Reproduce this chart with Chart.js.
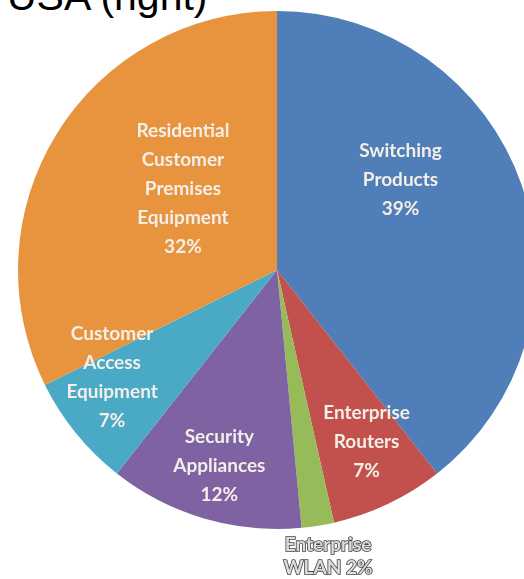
<!DOCTYPE html>
<html>
<head>
<meta charset="utf-8">
<script src="https://cdn.jsdelivr.net/npm/chart.js@4.4.0/dist/chart.umd.min.js"></script>
<style>
  html, body { margin: 0; padding: 0; background: #fff; overflow: hidden; width: 524px; height: 579px; }
  #title { position: absolute; left: 7px; top: -24px; font: 41px "Liberation Sans", Arial, sans-serif; line-height: 41px; color: #000; white-space: nowrap; }
  #wrap { position: absolute; left: 18px; top: 11px; width: 518px; height: 568px; }
</style>
</head>
<body>
<div id="title">USA (right)</div>
<div id="wrap"><canvas id="pie-chart"></canvas></div>
<script>
// segments, clockwise from 12 o'clock
var segmentLabels = [
  ['Switching', 'Products', '39%'],
  ['Enterprise', 'Routers', '7%'],
  ['Enterprise', 'WLAN 2%'],
  ['Security', 'Appliances', '12%'],
  ['Customer', 'Access', 'Equipment', '7%'],
  ['Residential', 'Customer', 'Premises', 'Equipment', '32%']
];
var segmentNames = ['Switching Products', 'Enterprise Routers', 'Enterprise WLAN', 'Security Appliances', 'Customer Access Equipment', 'Residential Customer Premises Equipment'];
var shares = [39, 7, 2, 12, 7, 32];
var colors = ['#4f7eb8', '#c2504c', '#98bb5a', '#7e62a2', '#4aaac5', '#e8943f'];

// where each label sits: shift from the slice's middle angle (deg) and distance as part of radius
var labelShift = [-17, -2, -1, 0, 6, 9];
var labelDist = [0.59, 0.75, 1.125, 0.79, 0.76, 0.48];

var ctx = document.getElementById('pie-chart');

var sliceLabels = {
  id: 'sliceLabels',
  afterDatasetsDraw: function(chart) {
    var c = chart.ctx;
    var arcs = chart.getDatasetMeta(0).data;
    c.save();
    c.font = 'bold 19px Lato, "Open Sans", sans-serif';
    c.textAlign = 'center';
    c.textBaseline = 'middle';
    arcs.forEach(function(arc, i) {
      var a = (arc.startAngle + arc.endAngle) / 2 + labelShift[i] * Math.PI / 180;
      var r = arc.outerRadius * labelDist[i];
      var x = arc.x + Math.cos(a) * r;
      var y = arc.y + Math.sin(a) * r;
      var lines = segmentLabels[i];
      var outside = labelDist[i] > 1;
      var lh = outside ? 23 : 29;
      lines.forEach(function(t, k) {
        var ty = y + (k - (lines.length - 1) / 2) * lh;
        if (outside) {
          c.lineWidth = 1.6;
          c.strokeStyle = '#444';
          c.strokeText(t, x, ty);
          c.fillStyle = '#dcdcdc';
        } else {
          c.fillStyle = '#f4efe8';
        }
        c.fillText(t, x, ty);
      });
    });
    c.restore();
  }
};

var myPie = new Chart(ctx, {
  type: 'pie',
  data: {
    labels: segmentNames,
    datasets: [{
      data: shares,
      backgroundColor: colors,
      borderWidth: 0
    }]
  },
  options: {
    responsive: true,
    maintainAspectRatio: false,
    animation: false,
    layout: { padding: { top: 0, left: 0, right: 0, bottom: 50 } },
    plugins: {
      legend: { display: false },
      tooltip: { enabled: false }
    }
  },
  plugins: [sliceLabels]
});
</script>
</body>
</html>
